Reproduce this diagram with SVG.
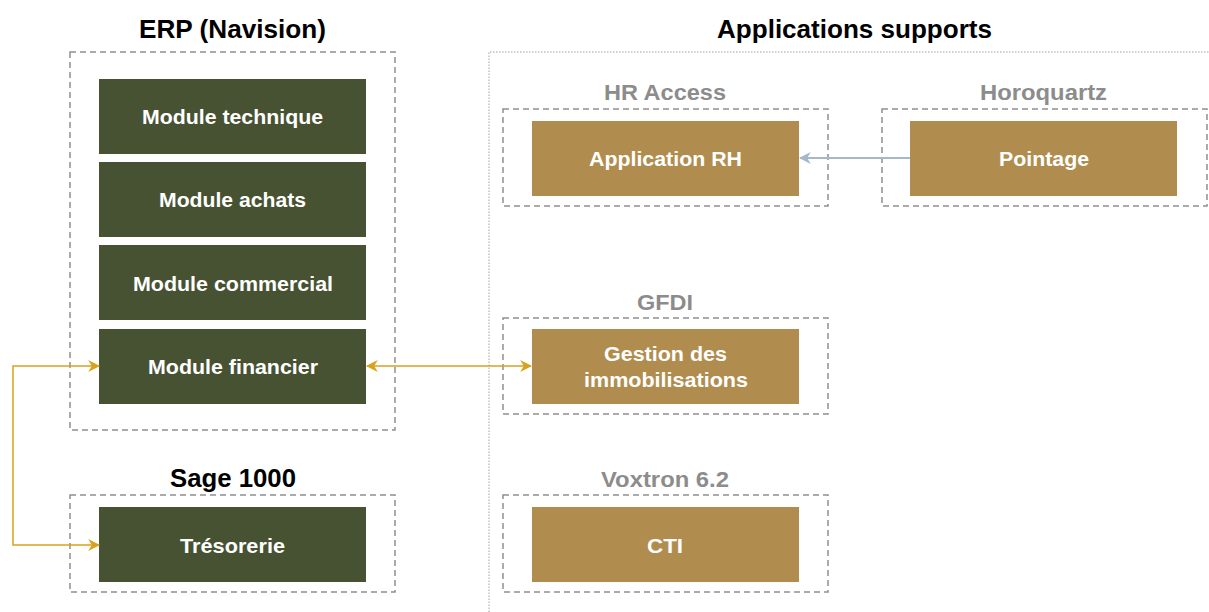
<svg xmlns="http://www.w3.org/2000/svg" width="1209" height="612" viewBox="0 0 1209 612">
<defs>
<style>
text{font-family:"Liberation Sans",Arial,sans-serif;font-weight:bold;text-anchor:middle}
.title{font-size:25px;fill:#000}
.sub{font-size:22px;fill:#8c8c8c}
.lbl{font-size:20px;fill:#fff}
.cont{fill:none;stroke:#909090;stroke-width:1.5;stroke-dasharray:6,4}
.green{fill:#475232}
.gold{fill:#b08d4e}
.cy{fill:none;stroke:#d9a21c;stroke-width:1.5}
.cb{fill:none;stroke:#a3b8c8;stroke-width:2}
</style>
<marker id="ay" viewBox="0 0 10 10" refX="9" refY="5" markerWidth="12" markerHeight="12" markerUnits="userSpaceOnUse" orient="auto-start-reverse">
<path d="M0,0 L10,5 L0,10 L3,5 Z" fill="#d9a21c"/>
</marker>
<marker id="ab" viewBox="0 0 10 10" refX="9" refY="5" markerWidth="12" markerHeight="12" markerUnits="userSpaceOnUse" orient="auto-start-reverse">
<path d="M0,0 L10,5 L0,10 L3,5 Z" fill="#a3b8c8"/>
</marker>
</defs>
<rect width="1209" height="612" fill="#fff"/>

<g id="erp">
<text class="title" x="232.5" y="38" textLength="187" lengthAdjust="spacingAndGlyphs">ERP (Navision)</text>
<rect class="cont" x="70" y="52" width="325" height="378"/>
</g>
<g id="module-technique"><rect class="green" x="99" y="79" width="267" height="75"/><text class="lbl" x="232.5" y="124" textLength="181" lengthAdjust="spacingAndGlyphs">Module technique</text></g>
<g id="module-achats"><rect class="green" x="99" y="162" width="267" height="75"/><text class="lbl" x="232.5" y="207" textLength="147" lengthAdjust="spacingAndGlyphs">Module achats</text></g>
<g id="module-commercial"><rect class="green" x="99" y="245" width="267" height="75"/><text class="lbl" x="233" y="291" textLength="200" lengthAdjust="spacingAndGlyphs">Module commercial</text></g>
<g id="module-financier"><rect class="green" x="99" y="329" width="267" height="75"/><text class="lbl" x="233" y="374" textLength="170" lengthAdjust="spacingAndGlyphs">Module financier</text></g>

<g id="sage">
<text class="title" x="233" y="487" textLength="126" lengthAdjust="spacingAndGlyphs">Sage 1000</text>
<rect class="cont" x="70" y="495" width="325" height="97"/>
</g>
<g id="tresorerie"><rect class="green" x="99" y="507" width="267" height="75"/><text class="lbl" x="232.5" y="553" textLength="105" lengthAdjust="spacingAndGlyphs">Trésorerie</text></g>

<g id="applications-supports">
<text class="title" x="854.5" y="38" textLength="275" lengthAdjust="spacingAndGlyphs">Applications supports</text>
<path d="M489,612 V52 H1209" fill="none" stroke="#a0a0a0" stroke-width="1" stroke-dasharray="1.5,1.5"/>
</g>

<g id="hr-access">
<text class="sub" x="665" y="100" textLength="122" lengthAdjust="spacingAndGlyphs">HR Access</text>
<rect class="cont" x="503" y="109" width="325" height="97"/>
</g>
<g id="application-rh"><rect class="gold" x="532" y="121" width="267" height="75"/><text class="lbl" x="665.5" y="166" textLength="153" lengthAdjust="spacingAndGlyphs">Application RH</text></g>

<g id="horoquartz">
<text class="sub" x="1043.5" y="100" textLength="127" lengthAdjust="spacingAndGlyphs">Horoquartz</text>
<rect class="cont" x="882" y="109" width="325" height="97"/>
</g>
<g id="pointage"><rect class="gold" x="910" y="121" width="267" height="75"/><text class="lbl" x="1044" y="166" textLength="90" lengthAdjust="spacingAndGlyphs">Pointage</text></g>

<g id="gfdi">
<text class="sub" x="665" y="310" textLength="56" lengthAdjust="spacingAndGlyphs">GFDI</text>
<rect class="cont" x="503" y="318" width="325" height="96"/>
</g>
<g id="gestion-immobilisations"><rect class="gold" x="532" y="329" width="267" height="75"/><text class="lbl" x="665.5" y="361" textLength="123" lengthAdjust="spacingAndGlyphs">Gestion des</text><text class="lbl" x="666" y="387" textLength="164" lengthAdjust="spacingAndGlyphs">immobilisations</text></g>

<g id="voxtron">
<text class="sub" x="665" y="487" textLength="128" lengthAdjust="spacingAndGlyphs">Voxtron 6.2</text>
<rect class="cont" x="503" y="495" width="325" height="97"/>
</g>
<g id="cti"><rect class="gold" x="532" y="507" width="267" height="75"/><text class="lbl" x="665" y="553" textLength="36" lengthAdjust="spacingAndGlyphs">CTI</text></g>

<g id="connectors">
<path class="cy" d="M99,366 H13 V545 H99" marker-start="url(#ay)" marker-end="url(#ay)"/>
<path class="cy" d="M367,366 H531" marker-start="url(#ay)" marker-end="url(#ay)"/>
<path class="cb" d="M910,158 H800" marker-end="url(#ab)"/>
</g>
</svg>
